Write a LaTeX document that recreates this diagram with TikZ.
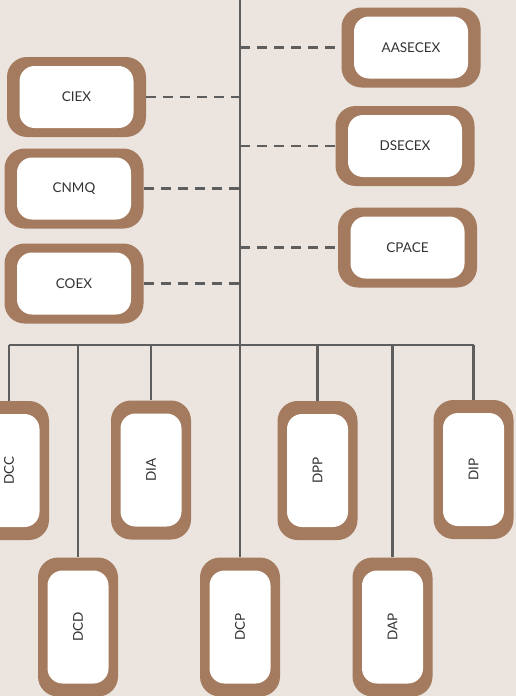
\documentclass[tikz,border=0pt]{standalone}
\usepackage{fontspec}
\setmainfont{Lato}
\usepackage{graphicx}
\definecolor{bgcol}{HTML}{EBE4DF}
\definecolor{boxbrown}{HTML}{A47B5E}
\definecolor{linegray}{HTML}{5E5E5E}
\definecolor{txtgray}{HTML}{333333}
\begin{document}
\begin{tikzpicture}[x=1pt,y=-1pt,font=\fontsize{13.5}{16}\selectfont,line join=round,line cap=butt,
  unitbox/.style 2 args={fill=boxbrown,rounded corners=20pt,inner sep=0pt,text=txtgray,
    path picture={\fill[white,rounded corners=15pt]
      ([shift={(#1,-#2)}]path picture bounding box.north west) rectangle
      ([shift={(-#1,#2)}]path picture bounding box.south east);}},
  wbox/.style={unitbox={12.5pt}{9pt},minimum width=139pt,minimum height=80pt},
  tbox/.style={unitbox={9.5pt}{13pt},minimum width=80pt,minimum height=139pt},
  link/.style={draw=linegray,line width=2.2pt},
  dlink/.style={draw=linegray,line width=2.6pt,dash pattern=on 10pt off 7pt}]
\useasboundingbox (0,0) rectangle (516,696);
\clip (0,0) rectangle (516,696);
\fill[bgcol] (0,0) rectangle (516,696);
% side units
\node[wbox] (aasecex) at (411,47.5) {AASECEX};
\node[wbox] (ciex) at (76.5,97) {CIEX};
\node[wbox] (dsecex) at (405,146) {DSECEX};
\node[wbox] (cnmq) at (74,188.5) {CNMQ};
\node[wbox] (cpace) at (407.5,247.5) {CPACE};
\node[wbox] (coex) at (74,283.5) {COEX};
% lower units
\node[tbox] (dcc) at (9,470.5) {\rotatebox{90}{DCC}};
\node[tbox] (dia) at (151,470) {\rotatebox{90}{DIA}};
\node[tbox] (dpp) at (317.5,470.5) {\rotatebox{90}{DPP}};
\node[tbox] (dip) at (473.5,469.5) {\rotatebox{90}{DIP}};
\node[tbox] (dcd) at (78,627) {\rotatebox{90}{DCD}};
\node[tbox] (dcp) at (240,627) {\rotatebox{90}{DCP}};
\node[tbox] (dap) at (392.5,627) {\rotatebox{90}{DAP}};
\coordinate (top) at (240,0);
\coordinate (bar) at (240,345);
% trunk and bar
\draw[link] (top) -- (dcp.north);
\draw[link] (dcc.north |- bar) -- (dip.north |- bar);
\foreach \u in {dcc,dia,dpp,dip,dcd,dap}
  \draw[link] (\u.north |- bar) -- (\u.north);
% dashed links
\foreach \u in {ciex,cnmq,coex}
  \draw[dlink] (\u.east) -- (\u.east -| top);
\foreach \u in {aasecex,dsecex,cpace}
  \draw[dlink] (\u.west -| top) -- (\u.west);
\end{tikzpicture}
\end{document}
